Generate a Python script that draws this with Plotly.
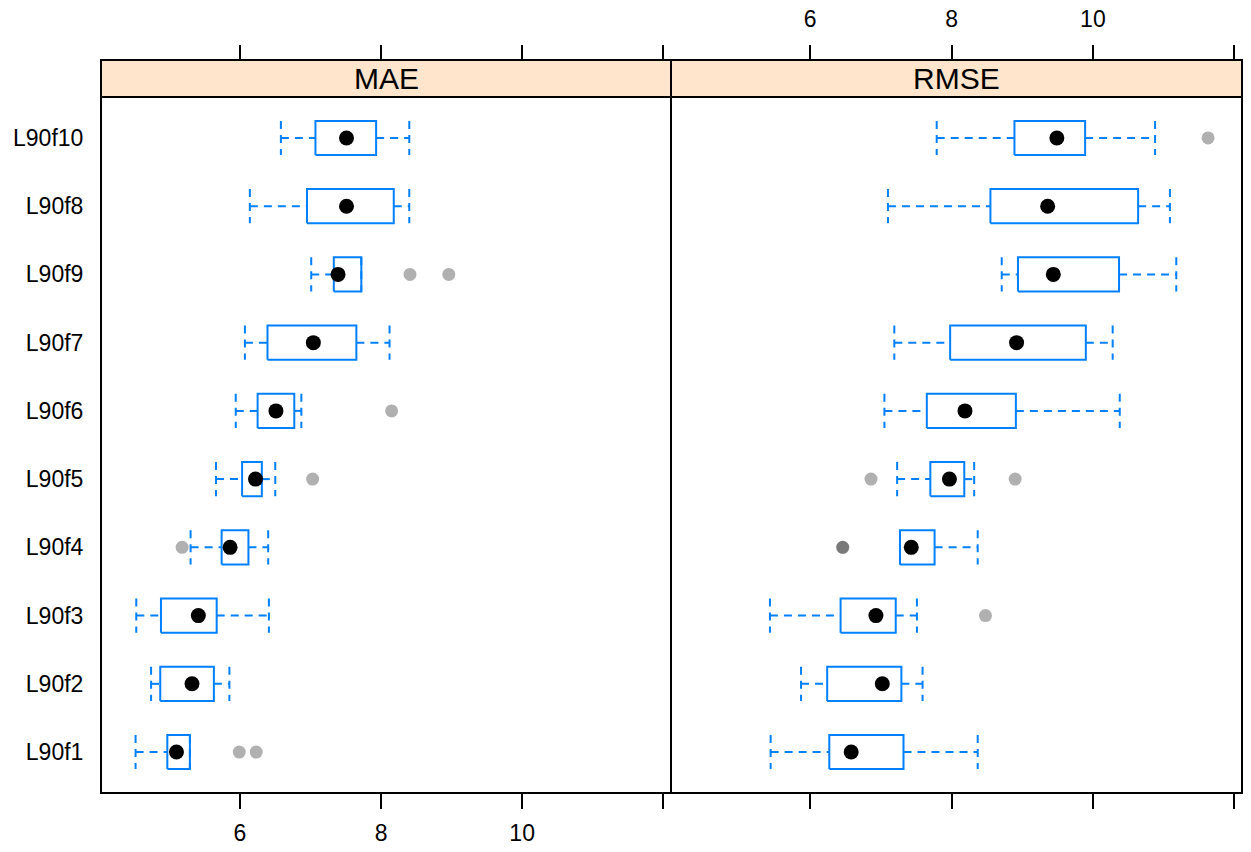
import plotly.graph_objects as go

# ---------------- data ----------------
categories = ["L90f1", "L90f2", "L90f3", "L90f4", "L90f5",
              "L90f6", "L90f7", "L90f9", "L90f8", "L90f10"]
panels = ["MAE", "RMSE"]

mae_low  = [4.52, 4.74, 4.53, 5.30, 5.66, 5.94, 6.07, 7.01, 6.14, 6.58]
mae_q1   = [4.97, 4.87, 4.88, 5.74, 6.03, 6.25, 6.39, 7.33, 6.95, 7.07]
mae_med  = [5.10, 5.32, 5.41, 5.86, 6.22, 6.51, 7.04, 7.39, 7.51, 7.51]
mae_q3   = [5.29, 5.63, 5.67, 6.12, 6.31, 6.77, 7.65, 7.72, 8.18, 7.93]
mae_high = [5.29, 5.85, 6.41, 6.40, 6.50, 6.87, 8.12, 7.72, 8.40, 8.40]
mae_out  = [[5.99, 6.23], [], [], [5.18], [7.03], [8.15], [], [8.41, 8.96], [], []]

rmse_low  = [5.44, 5.87, 5.43, 7.27, 7.23, 7.05, 7.19, 8.71, 7.10, 7.79]
rmse_q1   = [6.27, 6.24, 6.43, 7.27, 7.70, 7.65, 7.98, 8.94, 8.55, 8.89]
rmse_med  = [6.58, 7.02, 6.93, 7.43, 7.97, 8.19, 8.92, 9.44, 9.36, 9.49]
rmse_q3   = [7.32, 7.29, 7.21, 7.76, 8.18, 8.91, 9.90, 10.37, 10.64, 9.89]
rmse_high = [8.37, 7.59, 7.51, 8.37, 8.32, 10.38, 10.28, 11.18, 11.09, 10.88]
rmse_out  = [[], [], [8.48], [6.46, 6.46], [6.86, 8.90], [], [], [], [], [11.63]]

tick_vals = [6, 8, 10, 12]
tick_text = ["6", "8", "10", ""]
x_range = [4.03, 12.11]

# ---------------- style ----------------
W, H = 1251, 852
BLUE = "#0080FF"
FONT = "Liberation Sans, Arial, sans-serif"
HALF = 0.25  # half box height (category units)


def px_x(p):
    return p / W


def px_y(p):
    return (H - p) / H


panel_left, panel_mid, panel_right = 101, 671, 1242
panel_top, panel_bottom, strip_top = 97, 793, 60

dom1 = [px_x(panel_left), px_x(panel_mid)]
dom2 = [px_x(panel_mid), px_x(panel_right)]
ydom = [px_y(panel_bottom), px_y(panel_top)]

fig = go.Figure()


def add_panel(xa, xa_top, low, q1, med, q3, high, outs):
    bx, by, wx, wy = [], [], [], []
    for i in range(len(categories)):
        y = i + 1
        bx += [q1[i], q3[i], q3[i], q1[i], q1[i], None]
        by += [y - HALF, y - HALF, y + HALF, y + HALF, y - HALF, None]
        # whiskers
        wx += [low[i], q1[i], None, q3[i], high[i], None]
        wy += [y, y, None, y, y, None]
        # caps
        wx += [low[i], low[i], None, high[i], high[i], None]
        wy += [y + HALF, y - HALF, None, y + HALF, y - HALF, None]
    fig.add_trace(go.Scatter(x=wx, y=wy, xaxis=xa, yaxis="y", mode="lines",
                             line=dict(color=BLUE, width=2, dash="8px,6px"),
                             hoverinfo="skip", showlegend=False))
    fig.add_trace(go.Scatter(x=bx, y=by, xaxis=xa, yaxis="y", mode="lines",
                             line=dict(color=BLUE, width=2),
                             hoverinfo="skip", showlegend=False))
    ox, oy = [], []
    for i, vals in enumerate(outs):
        for v in vals:
            ox.append(v)
            oy.append(i + 1)
    fig.add_trace(go.Scatter(x=ox, y=oy, xaxis=xa, yaxis="y", mode="markers",
                             marker=dict(color="rgba(0,0,0,0.31)", size=13, line=dict(width=0)),
                             hoverinfo="skip", showlegend=False))
    # medians drawn on the overlaid top axis (same range) so that axis is rendered
    fig.add_trace(go.Scatter(x=med, y=list(range(1, len(categories) + 1)), xaxis=xa_top, yaxis="y",
                             mode="markers", marker=dict(color="black", size=15, line=dict(width=0)),
                             hoverinfo="skip", showlegend=False))


add_panel("x", "x3", mae_low, mae_q1, mae_med, mae_q3, mae_high, mae_out)
add_panel("x2", "x4", rmse_low, rmse_q1, rmse_med, rmse_q3, rmse_high, rmse_out)

tickfont = dict(family=FONT, size=23, color="black")
common_x = dict(range=x_range, tickmode="array", tickvals=tick_vals, ticktext=tick_text,
                ticks="outside", ticklen=15, tickwidth=2, tickcolor="black",
                showgrid=False, zeroline=False, showline=False, tickfont=tickfont)

fig.update_layout(
    width=W, height=H, autosize=False,
    margin=dict(l=0, r=0, t=0, b=0),
    paper_bgcolor="white", plot_bgcolor="white",
    showlegend=False,
    xaxis=dict(domain=dom1, anchor="y", side="bottom", showticklabels=True,
               ticklabelstandoff=4, **common_x),
    xaxis2=dict(domain=dom2, anchor="y", side="bottom", showticklabels=False, **common_x),
    xaxis3=dict(overlaying="x", anchor="free", position=px_y(strip_top), side="top",
                showticklabels=False, **common_x),
    xaxis4=dict(overlaying="x2", anchor="free", position=px_y(strip_top), side="top",
                showticklabels=True, ticklabelstandoff=9, **common_x),
    yaxis=dict(domain=ydom, anchor="x", range=[0.4, len(categories) + 0.6],
               tickmode="array", tickvals=list(range(1, len(categories) + 1)), ticktext=categories,
               ticks="outside", ticklen=12, tickcolor="rgba(0,0,0,0)",
               showgrid=False, zeroline=False, showline=False, tickfont=tickfont),
)

shapes = []
annotations = []
for (d, name) in [(dom1, panels[0]), (dom2, panels[1])]:
    shapes.append(dict(type="rect", xref="paper", yref="paper",
                       x0=d[0], x1=d[1], y0=px_y(panel_top), y1=px_y(strip_top),
                       fillcolor="#FFE5CC", line=dict(color="black", width=2), layer="above"))
    shapes.append(dict(type="rect", xref="paper", yref="paper",
                       x0=d[0], x1=d[1], y0=px_y(panel_bottom), y1=px_y(panel_top),
                       fillcolor="rgba(0,0,0,0)", line=dict(color="black", width=2), layer="above"))
    annotations.append(dict(xref="paper", yref="paper", x=(d[0] + d[1]) / 2,
                            y=px_y((panel_top + strip_top) / 2), text=name, showarrow=False,
                            xanchor="center", yanchor="middle",
                            font=dict(family=FONT, size=30, color="black")))
fig.update_layout(shapes=shapes, annotations=annotations)

fig.write_html("out.html")
